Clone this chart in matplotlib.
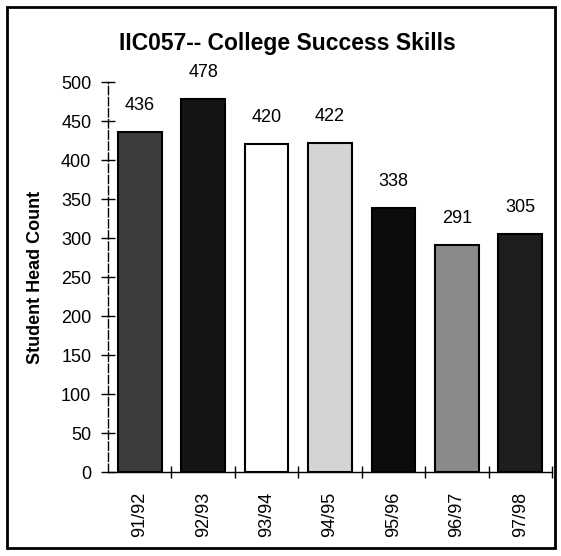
import matplotlib.pyplot as plt
from matplotlib.patches import Rectangle

# Datos
years = ['91/92', '92/93', '93/94', '94/95', '95/96', '96/97', '97/98']
head_count = [436, 478, 420, 422, 338, 291, 305]
bar_colors = ['#3c3c3c', '#141414', '#ffffff', '#d4d4d4', '#0c0c0c', '#8a8a8a', '#1e1e1e']

plt.rcParams['font.family'] = ['Liberation Sans', 'DejaVu Sans']

fig = plt.figure(figsize=(5.61, 5.56), dpi=100)
ax = fig.add_axes([0.1925, 0.151, 0.7915, 0.7015])

x = range(len(years))
ax.bar(x, head_count, width=0.69, color=bar_colors, edgecolor='black', linewidth=1.5)

for i, v in enumerate(head_count):
    ax.annotate(str(v), (i, v), xytext=(0, 13), textcoords='offset points',
                ha='center', va='bottom', fontsize=13)

ax.set_xlim(-0.5, 6.5)
ax.set_ylim(0, 500)
ax.set_yticks(range(0, 501, 50))
ax.set_xticks([i + 0.5 for i in range(len(years))], minor=False)
ax.set_xticklabels([])
ax.set_xticks(list(x), minor=True)
ax.set_xticklabels(years, minor=True, rotation=90, fontsize=13)
ax.tick_params(axis='x', which='minor', length=0, pad=14)
ax.tick_params(axis='x', which='major', direction='inout', length=8, width=1)
ax.tick_params(axis='y', direction='inout', length=10, width=1, labelsize=13, pad=7)

ax.spines['top'].set_visible(False)
ax.spines['right'].set_visible(False)
ax.spines['left'].set_linestyle((0, (6, 2)))
ax.spines['left'].set_linewidth(1)
ax.spines['bottom'].set_linewidth(1)

ax.set_ylabel('Student Head Count', fontsize=13, fontweight='bold', labelpad=12)
fig.text(0.512, 0.922, 'IIC057-- College Success Skills', ha='center', va='center',
         fontsize=16.5, fontweight='bold')

# marco exterior
fig.patches.append(Rectangle((0.012, 0.014), 0.978, 0.974, transform=fig.transFigure,
                             fill=False, edgecolor='black', linewidth=2))

fig.savefig('out.png', dpi=100)
